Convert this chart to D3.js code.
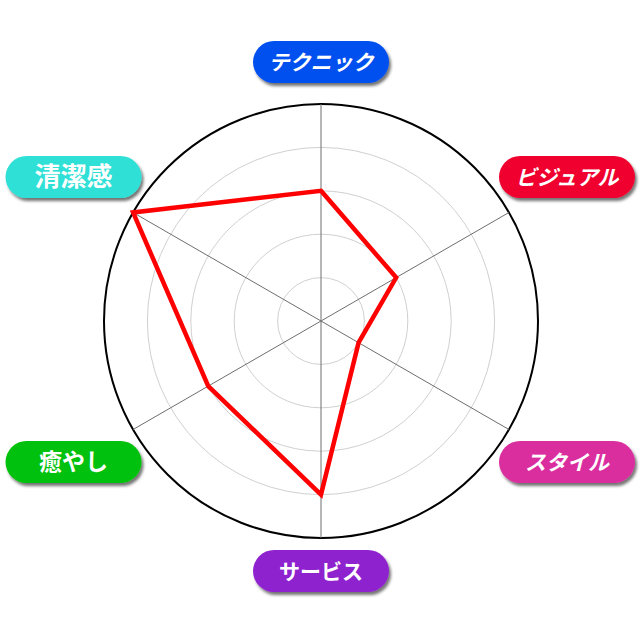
<!DOCTYPE html>
<html>
<head>
<meta charset="utf-8">
<script src="https://cdn.jsdelivr.net/npm/d3@7"></script>
<style>
  html, body { margin: 0; padding: 0; background: #fff; }
  svg { display: block; }
</style>
</head>
<body>
<svg id="chart" width="640" height="640"></svg>
<script>
const categories = ["テクニック", "ビジュアル", "スタイル", "サービス", "癒やし", "清潔感"];
const scores = [3, 2, 1, 4, 3, 5];
const ringLevels = [1, 2, 3, 4, 5];
const labelColors = ["#0650ef", "#ef002f", "#da2f9f", "#8f22cf", "#00c108", "#2de0d5"];

const width = 640;
const height = 640;
const cx = 321;
const cy = 321;
const radius = 217;

const svg = d3.select("#chart");

svg
  .append("defs")
  .append("filter")
  .attr("id", "shadow")
  .attr("x", "-20%")
  .attr("y", "-30%")
  .attr("width", "140%")
  .attr("height", "170%")
  .append("feDropShadow")
  .attr("dx", 2)
  .attr("dy", 3)
  .attr("stdDeviation", 1.8)
  .attr("flood-color", "rgba(0,0,0,0.55)");

const r = d3.scaleLinear().domain([0, 5]).range([0, radius]);
const angle = d3
  .scaleLinear()
  .domain([0, categories.length])
  .range([-Math.PI / 2, (3 * Math.PI) / 2]);

const g = svg.append("g").attr("transform", `translate(${cx},${cy})`);

// grid rings
g.selectAll("circle.ring")
  .data(ringLevels)
  .join("circle")
  .attr("class", "ring")
  .attr("r", (d) => r(d))
  .attr("fill", "none")
  .attr("stroke", (d) => (d === 5 ? "#000" : "#d0d0d0"))
  .attr("stroke-width", (d) => (d === 5 ? 2 : 1));

// spokes
g.selectAll("line.spoke")
  .data(categories)
  .join("line")
  .attr("class", "spoke")
  .attr("x1", 0)
  .attr("y1", 0)
  .attr("x2", (d, i) => r(5) * Math.cos(angle(i)))
  .attr("y2", (d, i) => r(5) * Math.sin(angle(i)))
  .attr("stroke", "#6e6e6e")
  .attr("stroke-width", 1);

// data polygon
const line = d3
  .lineRadial()
  .angle((d, i) => angle(i) + Math.PI / 2)
  .radius((d) => r(d))
  .curve(d3.curveLinearClosed);

g.append("path")
  .datum(scores)
  .attr("d", line)
  .attr("fill", "none")
  .attr("stroke", "#ff0000")
  .attr("stroke-width", 4.5)
  .attr("stroke-linejoin", "miter");

// label pills
const labelPos = (i) => {
  const a = angle(i);
  const lx = Math.cos(a);
  const ly = Math.sin(a);
  if (Math.abs(lx) < 0.01) {
    return [0, ly < 0 ? -259 : 250];
  }
  return [lx > 0 ? 246 : -247.5, ly < 0 ? -144 : 141];
};

const fontFor = (label) => {
  if (label === "清潔感") return { size: 26, style: "normal" };
  if (label === "癒やし") return { size: 23, style: "normal" };
  if (label === "サービス") return { size: 21, style: "normal" };
  return { size: 21, style: "italic" };
};

const pills = g
  .selectAll("g.pill")
  .data(categories)
  .join("g")
  .attr("class", "pill")
  .attr("transform", (d, i) => `translate(${labelPos(i)})`);

pills
  .append("rect")
  .attr("x", -68)
  .attr("y", -21)
  .attr("width", 136)
  .attr("height", 42)
  .attr("rx", 21)
  .attr("ry", 21)
  .attr("fill", (d, i) => labelColors[i])
  .style("filter", "url(#shadow)");

pills
  .append("text")
  .attr("text-anchor", "middle")
  .attr("dy", "0.36em")
  .attr("fill", "#fff")
  .style("font-family", "'Noto Sans CJK JP', sans-serif")
  .style("font-weight", "700")
  .style("font-size", (d) => fontFor(d).size + "px")
  .style("font-style", (d) => fontFor(d).style)
  .text((d) => d);
</script>
</body>
</html>
